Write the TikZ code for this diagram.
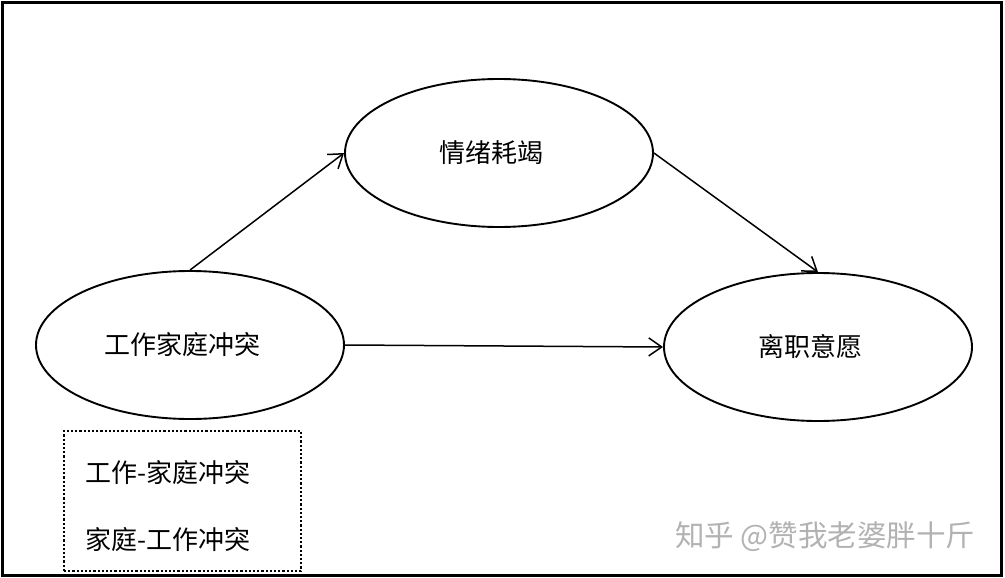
\documentclass[tikz,border=0pt]{standalone}
\usepackage{fontspec}
\setmainfont{Noto Sans CJK SC}
\newfontfamily\cjk{Noto Sans CJK SC}
\usetikzlibrary{shapes.geometric,arrows.meta}
\begin{document}
\begin{tikzpicture}[x=1pt,y=-1pt,
  ell/.style={draw,line width=1.9pt,ellipse,minimum width=308pt,minimum height=148pt,inner sep=0pt},
  etxt/.style={font=\cjk\fontsize{26}{30}\selectfont,inner sep=0pt},
  conn/.style={line width=1.5pt,-{Straight Barb[length=13pt,width=18pt,line width=1.5pt]}},
  lbl/.style={anchor=west,inner sep=0pt,font=\cjk\fontsize{26}{30}\selectfont},
  wm/.style={text=black!30,font=\cjk\fontsize{29.5}{32}\selectfont,anchor=west,inner sep=0pt}]
\useasboundingbox (0,0) rectangle (1005,578);
\draw[line width=3pt] (2.5,2.5) rectangle (1001.5,575.5);
\node[ell] (ee) at (499,153) {};
\node[etxt] (eet) at (491,153) {情绪耗竭};
\node[ell] (wfc) at (190,345) {};
\node[etxt] (wfct) at (182,345) {工作家庭冲突};
\node[ell] (ti) at (818,347) {};
\node[etxt] (tit) at (810,347) {离职意愿};
\draw[conn] (wfc.north) -- (ee.west);
\draw[conn] (ee.east) -- (ti.north);
\draw[conn] (wfc.east) -- (ti.west);
\node[draw,line width=2.2pt,dotted,minimum width=237pt,minimum height=140pt,inner sep=0pt] (box) at (182.5,501) {};
\node[lbl] (l1) at (85,473) {工作-家庭冲突};
\node[lbl] (l2) at (85,540) {家庭-工作冲突};
\node[wm] (w) at (675,537) {知乎 @赞我老婆胖十斤};
\end{tikzpicture}
\end{document}
